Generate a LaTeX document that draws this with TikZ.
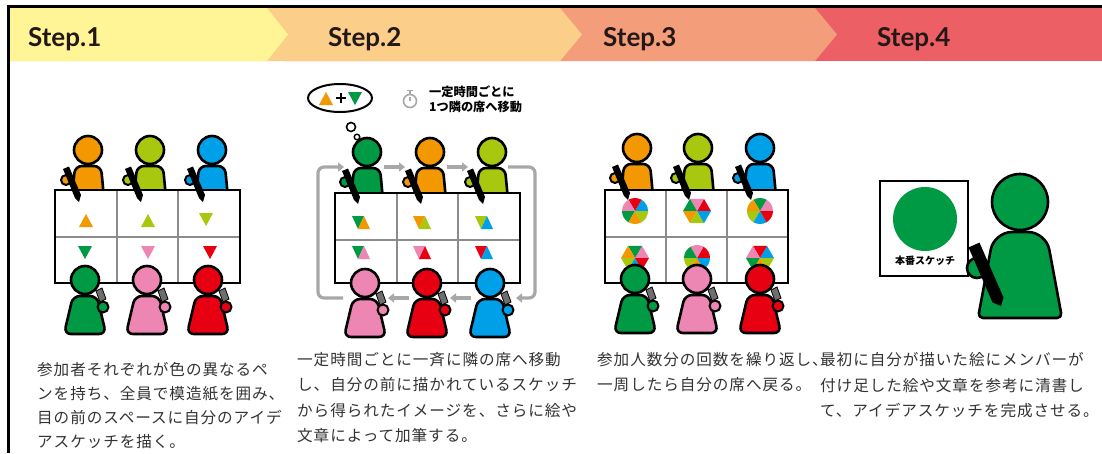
\documentclass[tikz,border=0pt]{standalone}
\usepackage{fontspec}
\setmainfont{Lato}
\newfontfamily\jpfont[LetterSpace=6]{Noto Sans CJK JP}
\newfontfamily\jpnote{Noto Sans CJK JP}
\usetikzlibrary{arrows.meta}

\definecolor{cOr}{HTML}{F39800}
\definecolor{cLi}{HTML}{A8C810}
\definecolor{cBl}{HTML}{00A0E9}
\definecolor{cGr}{HTML}{009944}
\definecolor{cPk}{HTML}{EE86B4}
\definecolor{cRd}{HTML}{E60012}
\definecolor{cArr}{HTML}{A8A8A8}
\definecolor{penGray}{HTML}{6E6E6E}
\definecolor{hdYel}{HTML}{FFF597}
\definecolor{hdOra}{HTML}{FBCE8A}
\definecolor{hdSal}{HTML}{F39D7B}
\definecolor{hdRed}{HTML}{EC6065}
\definecolor{txt}{HTML}{333333}
\definecolor{hd}{HTML}{231815}

% figure seated behind the sheet (head centre x, y, colour)
\newcommand{\sitter}[3]{%
  \begin{scope}[shift={(#1,#2)}]
    \draw[outl,fill=#3,rounded corners=7pt] (-13,16) -- (13,16) -- (16,48) -- (-16,48) -- cycle;
    \draw[outl,fill=#3] (0,0) circle (14pt);
  \end{scope}}
% pen hand of a seated figure, drawn over the sheet edge
\newcommand{\sitterpen}[3]{%
  \begin{scope}[shift={(#1,#2)}]
    \draw[outl,line width=2pt,fill=#3] (-22,30) circle (5pt);
    \fill[black] (-25,19) -- (-19,16.5) -- (-7,45) -- (-9,52) -- (-13,48) -- cycle;
  \end{scope}}
% figure standing in front of the sheet
\newcommand{\stander}[3]{%
  \begin{scope}[shift={(#1,#2)}]
    \draw[outl,fill=#3,rounded corners=7pt] (-12,16) -- (12,16) -- (21,54) -- (-21,54) -- cycle;
    \draw[line width=0.8pt,fill=penGray] (11,11) -- (17,8) -- (21,19) -- (15,22) -- cycle;
    \draw[outl,line width=2pt,fill=#3] (18,27) circle (5.5pt);
    \draw[outl,fill=#3] (0,0) circle (14pt);
  \end{scope}}
% paper sheet split in 3x2 cells
\newcommand{\sheet}[7]{%
  \fill[white] (#1,#2) rectangle (#3,#4);
  \draw[black!45,line width=1.2pt] (#5,#2) -- (#5,#4) (#6,#2) -- (#6,#4) (#1,#7) -- (#3,#7);
  \draw[line width=2.8pt] (#1,#2) rectangle (#3,#4);}
% small triangles
\newcommand{\tup}[3]{\fill[#3] (#1-7,#2+6) -- (#1+7,#2+6) -- (#1,#2-7) -- cycle;}
\newcommand{\tdown}[3]{\fill[#3] (#1-7,#2-6) -- (#1+7,#2-6) -- (#1,#2+7) -- cycle;}
% two joined triangles
\newcommand{\duo}[4]{%
  \fill[#3] (#1-10,#2-7) -- (#1+2,#2-7) -- (#1-4,#2+6) -- cycle;
  \fill[#4] (#1-4,#2+6) -- (#1+2,#2-7) -- (#1+8,#2+6) -- cycle;}
% six-colour wheels
\newcommand{\pie}[8]{%
  \begin{scope}[shift={(#1,#2)}]
    \foreach \c [count=\i from 0] in {#3,#4,#5,#6,#7,#8}
      \fill[\c] (0,0) -- (\i*60:13pt) arc[start angle=\i*60,end angle=\i*60+60,radius=13pt] -- cycle;
  \end{scope}}
\newcommand{\hexa}[8]{%
  \begin{scope}[shift={(#1,#2)}]
    \foreach \c [count=\i from 0] in {#3,#4,#5,#6,#7,#8}
      \fill[\c] (0,0) -- (\i*60:14pt) -- (\i*60+60:14pt) -- cycle;
  \end{scope}}

\begin{document}
\begin{tikzpicture}[x=1pt,y=-1pt,
  outl/.style={draw=black,line width=2.6pt,line join=round},
  flow/.style={draw=cArr,line width=3.2pt,-{Triangle[length=6pt,width=9pt]}},
  para/.style={font=\jpfont\fontsize{15.6}{20}\selectfont,text=txt,anchor=west,inner sep=0pt},
  note/.style={font=\jpnote\bfseries\fontsize{12.2}{13}\selectfont,anchor=west,inner sep=0pt},
  stephead/.style={font=\bfseries\fontsize{26}{30}\selectfont,text=hd,anchor=base west,inner sep=0pt}]
\useasboundingbox (0,0) rectangle (1102,453);
\fill[white] (0,0) rectangle (1102,453);

% header band
\fill[hdRed] (560,8) rectangle (1102,61);
\fill[hdSal] (285,8) -- (815,8) -- (837,34.5) -- (815,61) -- (285,61) -- cycle;
\fill[hdOra] (10,8) -- (560,8) -- (582,34.5) -- (560,61) -- (10,61) -- cycle;
\fill[hdYel] (10,8) -- (267,8) -- (288,34.5) -- (267,61) -- (10,61) -- cycle;
\node[stephead] (h1) at (28,46) {Step.1};
\node[stephead] (h2) at (328,46) {Step.2};
\node[stephead] (h3) at (603,46) {Step.3};
\node[stephead] (h4) at (877,46) {Step.4};
\draw[line width=3pt] (8.5,453) -- (8.5,6) -- (1102,6);

% ---------- Step 1 ----------
\sitter{88}{150}{cOr}
\sitter{150}{150}{cLi}
\sitter{212}{150}{cBl}
\sheet{55}{190}{240}{283}{117}{178}{237}
\tup{86}{221}{cOr}
\tup{148}{221}{cLi}
\tdown{206}{219}{cLi}
\tdown{85}{252}{cGr}
\tdown{148}{252}{cPk}
\tdown{210}{252}{cRd}
\sitterpen{88}{150}{cOr}
\sitterpen{150}{150}{cLi}
\sitterpen{212}{150}{cBl}
\stander{85}{280}{cGr}
\stander{147}{280}{cPk}
\stander{208}{280}{cRd}

% ---------- Step 2 ----------
\draw[flow,rounded corners=6pt] (343,298) -- (318,298) -- (318,167) -- (344,167);
\draw[flow,rounded corners=6pt] (508,167) -- (535,167) -- (535,298) -- (516,298);
\draw[flow] (384,167) -- (405,167);
\draw[flow] (447,167) -- (468,167);
\draw[flow] (409,298) -- (388,298);
\draw[flow] (471,298) -- (450,298);

% thought bubble
\draw[line width=2pt,fill=white] (340,98) ellipse [x radius=32pt,y radius=14pt];
\draw[line width=1.6pt,fill=white] (351,127) circle (4.5pt);
\draw[line width=1.4pt,fill=white] (357,137) circle (2.8pt);
\tup{326}{99}{cOr}
\draw[line width=1.8pt] (336,98) -- (346,98) (341,93) -- (341,103);
\tdown{355}{98}{cGr}

% timer and note
\draw[cArr,line width=1.6pt] (410,101) circle (6.5pt);
\draw[cArr,line width=1.6pt] (410,94.5) -- (410,91) (407,90.5) -- (413,90.5) (410,101) -- (410,97);
\node[note] (n1) at (429,92) {一定時間ごとに};
\node[note] (n2) at (429,107) {1つ隣の席へ移動};

\sitter{367}{152}{cGr}
\sitter{430}{152}{cOr}
\sitter{492}{152}{cLi}
\sheet{335}{193}{520}{283}{397}{458}{240}
\duo{362}{223}{cGr}{cOr}
\duo{423}{223}{cOr}{cLi}
\duo{485}{223}{cLi}{cBl}
\duo{362}{253}{cGr}{cPk}
\duo{423}{253}{cPk}{cRd}
\duo{485}{253}{cRd}{cBl}
\sitterpen{367}{152}{cGr}
\sitterpen{430}{152}{cOr}
\sitterpen{492}{152}{cLi}
\stander{365}{283}{cPk}
\stander{427}{283}{cRd}
\stander{490}{283}{cBl}

% ---------- Step 3 ----------
\sitter{637}{148}{cOr}
\sitter{698}{148}{cLi}
\sitter{760}{148}{cBl}
\sheet{605}{190}{788}{283}{666}{727}{237}
\pie{635}{211}{cBl}{cRd}{cPk}{cGr}{cOr}{cLi}
\hexa{697}{211}{cRd}{cPk}{cGr}{cOr}{cLi}{cBl}
\pie{760}{211}{cPk}{cGr}{cOr}{cLi}{cBl}{cRd}
\hexa{635}{258}{cPk}{cGr}{cOr}{cLi}{cBl}{cRd}
\pie{697}{258}{cRd}{cPk}{cGr}{cLi}{cOr}{cBl}
\hexa{760}{258}{cBl}{cRd}{cPk}{cGr}{cOr}{cLi}
\sitterpen{637}{148}{cOr}
\sitterpen{698}{148}{cLi}
\sitterpen{760}{148}{cBl}
\stander{635}{279}{cGr}
\stander{697}{279}{cPk}
\stander{760}{279}{cRd}

% ---------- Step 4 ----------
\draw[line width=2.6pt,fill=white] (880,181) rectangle (968,276);
\fill[cGr] (925,219) circle (32pt);
\node[font=\jpnote\bfseries\fontsize{10}{10}\selectfont,inner sep=0pt] (board) at (925,261) {本番スケッチ};
\draw[outl,fill=cGr] (978,318) [rounded corners=18pt] -- (994,232) -- (1046,232) [rounded corners=5pt] -- (1062,318) -- cycle;
\draw[outl,fill=cGr] (977,268) circle (10pt);
\fill[black] (968.5,247.4) -- (979.5,242.6) -- (1003.5,297.6) -- (1001,306) -- (992.5,302.4) -- cycle;
\draw[outl,fill=cGr] (1020,202) circle (28pt);

% ---------- descriptions ----------
\node[para] (t11) at (37,370) {参加者それぞれが色の異なるペ};
\node[para] (t12) at (37,394) {ンを持ち、全員で模造紙を囲み、};
\node[para] (t13) at (37,418) {目の前のスペースに自分のアイデ};
\node[para] (t14) at (37,442) {アスケッチを描く。};

\node[para] (t21) at (297,360) {一定時間ごとに一斉に隣の席へ移動};
\node[para] (t22) at (297,385) {し、自分の前に描かれているスケッチ};
\node[para] (t23) at (297,411) {から得られたイメージを、さらに絵や};
\node[para] (t24) at (297,436) {文章によって加筆する。};

\node[para] (t31) at (597,360) {参加人数分の回数を繰り返し、};
\node[para] (t32) at (597,385) {一周したら自分の席へ戻る。};

\node[para] (t41) at (820,360) {最初に自分が描いた絵にメンバーが};
\node[para] (t42) at (820,386) {付け足した絵や文章を参考に清書し};
\node[para] (t43) at (820,411) {て、アイデアスケッチを完成させる。};
\end{tikzpicture}
\end{document}
